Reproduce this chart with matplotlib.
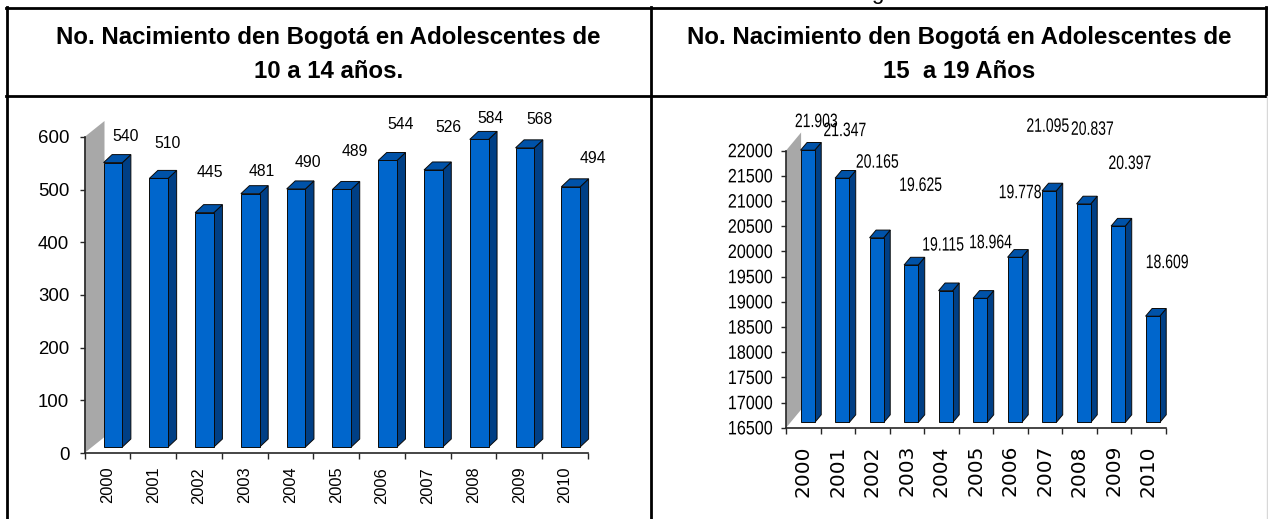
import numpy as np
import matplotlib.pyplot as plt
from matplotlib import transforms
from matplotlib.patches import Polygon, PathPatch
from matplotlib.lines import Line2D
from matplotlib.textpath import TextPath
from matplotlib.font_manager import FontProperties

# ---- data ----
years = ['2000', '2001', '2002', '2003', '2004', '2005',
         '2006', '2007', '2008', '2009', '2010']
births_10_14 = [540, 510, 445, 481, 490, 489, 544, 526, 584, 568, 494]
births_15_19 = [21903, 21347, 20165, 19625, 19115, 18964,
                19778, 21095, 20837, 20397, 18609]
title_10_14 = ['No. Nacimiento den Bogotá en Adolescentes de', '10 a 14 años.']
title_15_19 = ['No. Nacimiento den Bogotá en Adolescentes de', '15  a 19 Años']

# where excel dropped the value labels (px right of bar centre, px above bar top)
nudge_10_14 = [(18, 32), (14, 41), (11, 46), (17, 28), (17, 32), (19, 44),
               (19, 42), (21, 48), (17, 27), (20, 34), (28, 34)]
nudge_15_19 = [(13, 35), (7, 54), (5, 82), (14, 86), (2, 52), (15, 62),
               (10, 71), (3, 71), (13, 81), (16, 69), (19, 60)]

W, H = 1268, 519
fig = plt.figure(figsize=(W / 100, H / 100), dpi=100)

ARIAL = 'Liberation Sans'
FRONT = '#0066cc'
SIDE = '#003f85'
TOP = '#0052a8'
WALL = '#a8a8a8'
AXC = '#262626'


def place_axes(x0, y_top, x1, y_bot):
    # pixel box (origin top-left) -> figure fraction
    return fig.add_axes([x0 / W, 1 - y_bot / H, (x1 - x0) / W, (y_bot - y_top) / H])


def px_shift(ax, x, y, dx, dy):
    X, Y = ax.transData.transform((x, y))
    return ax.transData.inverted().transform((X + dx, Y + dy))


def fmt_dots(v):
    return '{:,}'.format(v).replace(',', '.')


def squeezed_text(ax, s, x, y, dx, dy, size, squeeze, ha='center'):
    # the right hand chart was squashed sideways, so its text is narrow
    tp = TextPath((0, 0), s, size=size * 100 / 72, prop=FontProperties(family=ARIAL))
    ext = tp.get_extents()
    ox = {'center': (ext.x0 + ext.x1) / 2, 'right': ext.x1, 'left': ext.x0}[ha]
    oy = (ext.y0 + ext.y1) / 2
    tr = (transforms.Affine2D().translate(-ox, -oy).scale(squeeze, 1).translate(dx, dy)
          + transforms.ScaledTranslation(x, y, ax.transData))
    ax.add_patch(PathPatch(tp, transform=tr, fc='black', ec='none', lw=0,
                           clip_on=False, zorder=6))


def draw_panel(ax, values, ymin, ymax, step, front, depth, wall):
    n = len(values)
    x = np.arange(n)
    ax.set_xlim(-0.5, n - 0.5)
    ax.set_ylim(ymin, ymax)
    ax.patch.set_visible(False)
    for s in ['top', 'right']:
        ax.spines[s].set_visible(False)
    for s in ['left', 'bottom']:
        ax.spines[s].set_color(AXC)
        ax.spines[s].set_linewidth(1.2)
        ax.spines[s].set_zorder(5)

    # grey back wall on the left
    c0 = (-0.5, ymin)
    c1 = (-0.5, ymax)
    wall_pts = [c0, c1, px_shift(ax, *c1, *wall), px_shift(ax, *c0, *wall)]
    ax.add_patch(Polygon(wall_pts, closed=True, fc=WALL, ec='none',
                         clip_on=False, zorder=1))

    # bars: front face through ax.bar, then side and top faces
    w = 0.41
    off = transforms.ScaledTranslation(front[0] / 100, front[1] / 100, fig.dpi_scale_trans)
    heights = [v - ymin for v in values]
    ax.bar(x, heights, bottom=ymin, width=w, color=FRONT, edgecolor='#0a0a0a',
           linewidth=0.7, transform=ax.transData + off, clip_on=False, zorder=3)
    fx, fy = front
    bx, by = front[0] + depth[0], front[1] + depth[1]
    for i, v in enumerate(values):
        xl, xr = i - w / 2, i + w / 2
        side = [px_shift(ax, xr, ymin, fx, fy), px_shift(ax, xr, v, fx, fy),
                px_shift(ax, xr, v, bx, by), px_shift(ax, xr, ymin, bx, by)]
        top = [px_shift(ax, xl, v, fx, fy), px_shift(ax, xr, v, fx, fy),
               px_shift(ax, xr, v, bx, by), px_shift(ax, xl, v, bx, by)]
        ax.add_patch(Polygon(side, closed=True, fc=SIDE, ec='#0a0a0a',
                             lw=0.7, clip_on=False, zorder=2.5))
        ax.add_patch(Polygon(top, closed=True, fc=TOP, ec='#0a0a0a',
                             lw=0.7, clip_on=False, zorder=2.5))

    ax.set_yticks(np.arange(ymin, ymax + 1, step))
    ax.tick_params(axis='y', direction='out', length=3.6, width=1.0, color=AXC)
    ax.set_xticks(x)
    ax.set_xticks(np.arange(-0.5, n), minor=True)
    ax.tick_params(axis='x', which='major', length=0)
    ax.tick_params(axis='x', which='minor', direction='out', length=4,
                   width=1.0, color=AXC)


axL = place_axes(84.5, 137, 588, 453)
axR = place_axes(786.1, 150.5, 1165.6, 427.7)

# ---- left: 10 a 14 ----
draw_panel(axL, births_10_14, 0, 600, 100, front=(5.6, 6), depth=(8.5, 8), wall=(20, 16))
axL.set_yticklabels([str(t) for t in axL.get_yticks().astype(int)],
                    family=ARIAL, fontsize=13.4)
axL.tick_params(axis='y', pad=7.3)
axL.set_xticklabels(years, rotation=90, family=ARIAL, fontsize=11.8)
axL.tick_params(axis='x', which='major', pad=9.9)
for i, v in enumerate(births_10_14):
    axL.annotate(str(v), xy=(i, v),
                 xytext=(nudge_10_14[i][0] * 0.72, nudge_10_14[i][1] * 0.72),
                 textcoords='offset points', ha='center', va='center',
                 fontsize=11.3, family=ARIAL, zorder=6, annotation_clip=False)

# ---- right: 15 a 19 ----
draw_panel(axR, births_15_19, 16500, 22000, 500, front=(4.3, 5.2), depth=(6.5, 7.7),
           wall=(15, 18))
axR.set_yticklabels([])
for t in axR.get_yticks():
    squeezed_text(axR, str(int(t)), -0.5, t, -14, 0, 14, 0.83, ha='right')
axR.set_xticklabels(years, rotation=90, family='DejaVu Sans', fontsize=14.5)
axR.tick_params(axis='x', which='major', pad=12.5)
for i, v in enumerate(births_15_19):
    squeezed_text(axR, fmt_dots(v), i, v, nudge_15_19[i][0], nudge_15_19[i][1],
                  14, 0.72)

# ---- table frame ----
def hline(y, x0, x1, color='black', lw=2):
    fig.add_artist(Line2D([x0 / W, x1 / W], [1 - y / H, 1 - y / H], color=color,
                          lw=lw, transform=fig.transFigure))


def vline(x, y0, y1, color='black', lw=2):
    fig.add_artist(Line2D([x / W, x / W], [1 - y0 / H, 1 - y1 / H], color=color,
                          lw=lw, transform=fig.transFigure))


hline(7.5, 5.5, 1266.5)
hline(96, 5.5, 1266.5)
vline(6.5, 6.5, H + 2)
vline(650.7, 6.5, H + 2)
vline(1266, 6.5, 96)
vline(1266.5, 96, H + 2, color='#d8d8d8', lw=1)

for cx, lines in [(328.5, title_10_14), (959, title_15_19)]:
    for k, line in enumerate(lines):
        fig.text(cx / W, 1 - (44.3 + 34 * k) / H, line, ha='center', va='baseline',
                 fontsize=17.3, fontweight='bold', family=ARIAL)

# tail of a line of text cut off above the table
fig.text(877 / W, 1 + 0.5 / H, 'g', ha='center', va='baseline', fontsize=16,
         family=ARIAL)

fig.savefig('out.png', dpi=100)
